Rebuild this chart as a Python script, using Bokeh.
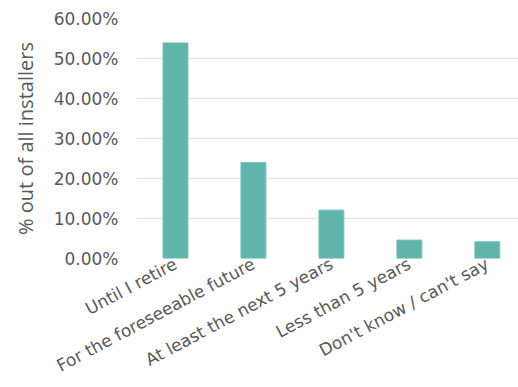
from bokeh.plotting import figure
from bokeh.models import Range1d, FixedTicker, NumeralTickFormatter, ColumnDataSource
from bokeh.embed import file_html
from bokeh.resources import INLINE

# Survey answers: how long installers expect to stay in the trade
categories = [
    "Until I retire",
    "For the foreseeable future",
    "At least the next 5 years",
    "Less than 5 years",
    "Don't know / can't say",
]
shares = [0.539, 0.240, 0.121, 0.046, 0.042]
y_ticks = [0.0, 0.1, 0.2, 0.3, 0.4, 0.5, 0.6]

positions = list(range(len(categories)))
source = ColumnDataSource(dict(x=positions, share=shares))

TEXT = "#595959"
FONT = "DejaVu Sans"

p = figure(
    width=518, height=387,
    x_range=Range1d(-0.5, 4.4), y_range=Range1d(0, 0.6),
    output_backend="svg", toolbar_location=None,
    min_border_left=136, min_border_right=0,
    min_border_top=18, min_border_bottom=128,
)
p.outline_line_color = None
p.background_fill_color = "white"
p.border_fill_color = "white"

p.vbar(x="x", top="share", width=0.32, source=source,
       fill_color="#5FB4AB", line_color="#7cc4bb", line_width=1)

# y axis
p.yaxis.ticker = FixedTicker(ticks=y_ticks)
p.yaxis.formatter = NumeralTickFormatter(format="0.00%")
p.yaxis.axis_label = "% out of all installers"
p.yaxis.axis_label_text_font = "Open Sans"
p.yaxis.axis_label_text_font_style = "normal"
p.yaxis.axis_label_text_font_size = "20px"
p.yaxis.axis_label_text_color = TEXT
p.yaxis.axis_label_standoff = 12
p.yaxis.major_label_text_font = FONT
p.yaxis.major_label_text_font_size = "17px"
p.yaxis.major_label_text_color = TEXT
p.yaxis.major_label_standoff = 12
p.yaxis.axis_line_color = None
p.yaxis.major_tick_line_color = None
p.yaxis.minor_tick_line_color = None

# x axis with slanted category names
p.xaxis.ticker = FixedTicker(ticks=positions)
p.xaxis.major_label_overrides = {i: c for i, c in zip(positions, categories)}
p.xaxis.major_label_orientation = 0.49
p.xaxis.major_label_text_font = FONT
p.xaxis.major_label_text_font_size = "17px"
p.xaxis.major_label_text_color = TEXT
p.xaxis.major_label_standoff = 4
p.xaxis.axis_line_color = None
p.xaxis.major_tick_line_color = None
p.xaxis.minor_tick_line_color = None
p.xaxis.major_tick_out = 0
p.xaxis.major_tick_in = 0

p.xgrid.grid_line_color = None
p.ygrid.grid_line_color = "#e4e4e4"
p.ygrid.grid_line_width = 1.5

open("out.html", "w").write(file_html(p, INLINE))
